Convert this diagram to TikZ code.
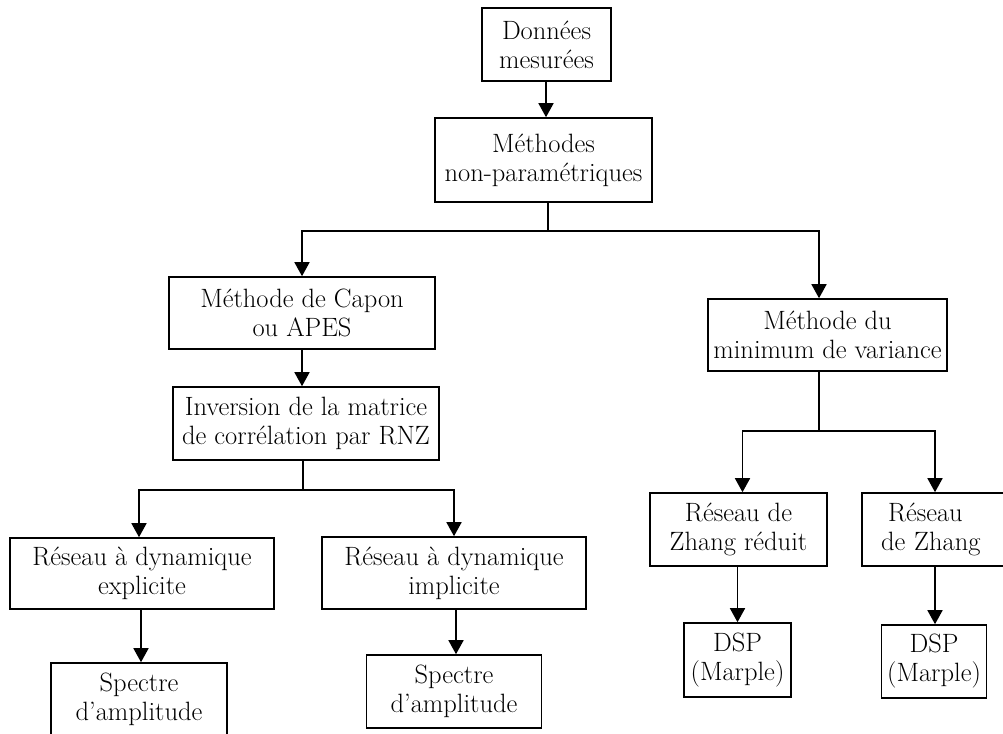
\documentclass[tikz,border=0pt]{standalone}
\usetikzlibrary{arrows.meta}
\begin{document}
\begin{tikzpicture}[x=1pt,y=-1pt,
  box/.style={draw, line width=1.6pt, align=center, inner sep=0pt,
    font=\fontsize{26.5}{29}\selectfont},
  link/.style={line width=1.6pt},
  arr/.style={line width=1.6pt, -{Triangle[width=15pt,length=14pt]}}]
\useasboundingbox (0,0) rectangle (1003,733);
\clip (0,0) rectangle (1003,733);

% boxes
\node[box, minimum width=129pt, minimum height=73pt] (don) at (546.5,44.5) {Données\\mesurées};
\node[box, minimum width=217pt, minimum height=84pt] (np) at (543.5,160) {Méthodes\\non-paramétriques};
\node[box, minimum width=266pt, minimum height=72pt] (capon) at (302,313) {Méthode de Capon\\ou APES};
\node[box, minimum width=266pt, minimum height=73pt] (inv) at (306,423.5) {Inversion de la matrice\\de corrélation par RNZ};
\node[box, minimum width=264pt, minimum height=71pt] (expl) at (142,573.5) {Réseau à dynamique\\explicite};
\node[box, minimum width=264pt, minimum height=72pt] (impl) at (454,573) {Réseau à dynamique\\implicite};
\node[box, minimum width=176pt, minimum height=73pt] (spl) at (139,699.5) {Spectre\\d'amplitude};
\node[box, minimum width=175pt, minimum height=73pt] (spr) at (454,691.5) {Spectre\\d'amplitude};
\node[box, minimum width=239pt, minimum height=72pt] (mv) at (827.5,335) {Méthode du\\minimum de variance};
\node[box, minimum width=177pt, minimum height=73pt] (zr) at (738.5,529.5) {Réseau de\\Zhang réduit};
\node[box, minimum width=190pt, minimum height=73pt, inner xsep=19pt,
  text width=152pt, align=left] (zh) at (957,529.5) {\hspace*{7pt}Réseau\\de Zhang};
\node[box, minimum width=107pt, minimum height=74pt] (dspl) at (737.5,660) {DSP\\(Marple)};
\node[box, minimum width=105pt, minimum height=73pt] (dspr) at (934,661.5) {DSP\\(Marple)};

% junction points
\coordinate (j1) at (548,231);
\coordinate (j2) at (303,490);
\coordinate (j3) at (819,431);

% connectors
\draw[arr] ([xshift=-0.5pt]don.south) -- ([xshift=-0.5pt]don.south |- np.north);
\draw[link] ([xshift=4.5pt]np.south) -- (j1);
\draw[arr] (j1) -| (capon.north);
\draw[arr] (j1) -| ([xshift=-8.5pt]mv.north);
\draw[arr] (capon.south) -- (capon.south |- inv.north);
\draw[link] (j2 |- inv.south) -- (j2);
\draw[arr] (j2) -| ([xshift=-3pt]expl.north);
\draw[arr] (j2) -| (impl.north);
\draw[arr] ([xshift=-1pt]expl.south) -- ([xshift=-1pt]expl.south |- spl.north);
\draw[arr] ([xshift=2pt]impl.south) -- ([xshift=2pt]impl.south |- spr.north);
\draw[link] (j3 |- mv.south) -- (j3);
\draw[arr] (j3) -| ([xshift=4pt]zr.north);
\draw[arr] (j3) -| ([xshift=-22pt]zh.north);
\draw[arr] (dspl.north |- zr.south) -- (dspl.north);
\draw[arr] ([xshift=1pt]dspr.north |- zh.south) -- ([xshift=1pt]dspr.north);
\end{tikzpicture}
\end{document}
